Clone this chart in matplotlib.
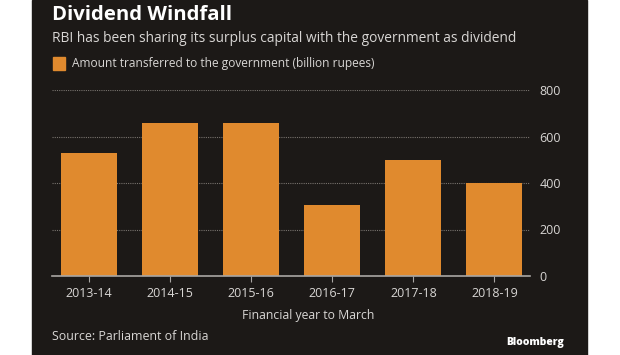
import matplotlib
matplotlib.use("Agg")
import matplotlib.pyplot as plt
from matplotlib.patches import Rectangle

# ── data ─────────────────────────────────────────────────────────────────────
years = ["2013-14", "2014-15", "2015-16", "2016-17", "2017-18", "2018-19"]
amounts = [528, 659, 658, 306, 500, 400]
y_ticks = [0, 200, 400, 600, 800]

# ── colours ──────────────────────────────────────────────────────────────────
BG = "#1c1917"
BAR = "#e08a2e"
GRID = "#77726d"
AXIS = "#a9a6a3"
TXT = "#d8d6d4"

plt.rcParams["font.family"] = ["Open Sans", "DejaVu Sans"]

W, H = 620, 355
fig = plt.figure(figsize=(W / 100, H / 100), dpi=100, facecolor="white")


def fx(px):
    return px / W


def fy(py):
    return 1 - py / H


# dark panel
fig.patches.append(Rectangle((fx(32), 0), fx(587) - fx(32), 1,
                             transform=fig.transFigure, color=BG, zorder=-5))

ax = fig.add_axes([fx(52), fy(276), fx(530) - fx(52), fy(90) - fy(276)])
ax.set_zorder(2)
ax.set_facecolor("none")
x = range(len(years))
ax.bar(x, amounts, width=0.69, color=BAR, zorder=3)
ax.set_xlim(-0.46, 5.44)
ax.set_ylim(0, 800)
ax.set_yticks(y_ticks)
ax.yaxis.tick_right()
ax.tick_params(axis="y", length=0, pad=7, labelsize=9, labelcolor=TXT)
ax.set_xticks(list(x))
ax.set_xticklabels(years)
ax.tick_params(axis="x", length=4, width=0.8, color=AXIS, pad=4,
               labelsize=9, labelcolor=TXT)
for s in ["top", "right", "left"]:
    ax.spines[s].set_visible(False)
ax.spines["bottom"].set_color(AXIS)
ax.spines["bottom"].set_linewidth(1.2)
ax.spines["bottom"].set_zorder(4)
ax.yaxis.grid(True, color=GRID, lw=0.8, linestyle=(0, (1, 1)), zorder=1)
ax.set_axisbelow(True)

# header texts
fig.text(fx(52), fy(15), "Dividend Windfall", color="white", fontsize=14.6,
         fontweight="bold", ha="left", va="center")
fig.text(fx(52), fy(38), "RBI has been sharing its surplus capital with the government as dividend",
         color=TXT, fontsize=9.9, ha="left", va="center")
fig.patches.append(Rectangle((fx(53), fy(70)), fx(12), fy(57) - fy(70),
                             transform=fig.transFigure, color=BAR, zorder=2))
fig.text(fx(72), fy(63), "Amount transferred to the government (billion rupees)",
         color=TXT, fontsize=8.6, ha="left", va="center")

# footer texts
fig.text(fx(308), fy(316), "Financial year to March", color=TXT, fontsize=8.8,
         ha="center", va="center")
fig.text(fx(52), fy(337), "Source: Parliament of India", color=TXT, fontsize=8.9,
         ha="left", va="center")
fig.text(fx(535), fy(342), "Bloomberg", color="white", fontsize=7.5,
         fontweight="heavy", ha="center", va="center")

fig.savefig("out.png", dpi=100, facecolor="white")
